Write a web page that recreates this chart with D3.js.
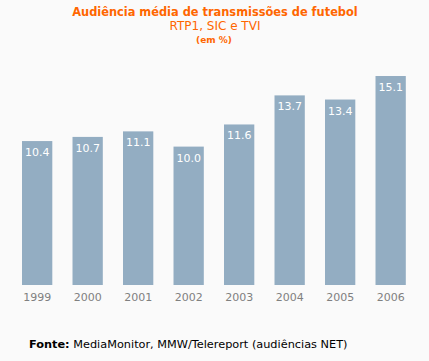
<!DOCTYPE html>
<html><head><meta charset="utf-8">
<script src="https://cdn.jsdelivr.net/npm/d3@7"></script>
<style>html,body{margin:0;padding:0;background:#fafafa;}svg{display:block;}</style>
</head><body>
<script>
const years = ["1999","2000","2001","2002","2003","2004","2005","2006"];
const values = [10.4, 10.7, 11.1, 10.0, 11.6, 13.7, 13.4, 15.1];
const valueLabels = ["10.4","10.7","11.1","10.0","11.6","13.7","13.4","15.1"];
const title = "Audiência média de transmissões de futebol";
const subtitle = "RTP1, SIC e TVI";
const unitLabel = "(em %)";
const sourceBold = "Fonte:";
const sourceText = " MediaMonitor, MMW/Telereport (audiências NET)";

const W = 429, H = 361;
const font = "'DejaVu Sans', Verdana, sans-serif";
const svg = d3.select("body").append("svg").attr("width", W).attr("height", H);
svg.append("rect").attr("width", W).attr("height", H).attr("fill", "#fafafa");

const x = d3.scaleBand().domain(years).range([11.9, 415.9]).paddingInner(0.4).paddingOuter(0.2);
const y = d3.scaleLinear().domain([0, 16]).range([285, 285 - 16 * 13.84]);

svg.append("text").attr("x", 215).attr("y", 15.5).attr("text-anchor", "middle")
  .attr("font-family", font).attr("font-weight", "bold").attr("font-size", 11.4).attr("fill", "#ff6600").text(title);
svg.append("text").attr("x", 215).attr("y", 30).attr("text-anchor", "middle")
  .attr("font-family", font).attr("font-size", 12).attr("fill", "#ff6600").text(subtitle);
svg.append("text").attr("x", 214).attr("y", 42.5).attr("text-anchor", "middle")
  .attr("font-family", font).attr("font-weight", "bold").attr("font-size", 9).attr("fill", "#ff6600").text(unitLabel);

svg.selectAll("rect.bar").data(values).enter().append("rect").attr("class", "bar")
  .attr("x", (d, i) => x(years[i])).attr("width", x.bandwidth())
  .attr("y", d => y(d)).attr("height", d => y(0) - y(d)).attr("fill", "#93adc2");

svg.selectAll("text.val").data(values).enter().append("text").attr("class", "val")
  .attr("x", (d, i) => x(years[i]) + x.bandwidth() / 2).attr("y", d => y(d) + 15)
  .attr("text-anchor", "middle").attr("font-family", font).attr("font-size", 11).attr("fill", "#ffffff")
  .text((d, i) => valueLabels[i]);

const xAxis = d3.axisBottom(x).tickSize(0).tickPadding(0);
const gx = svg.append("g").attr("transform", "translate(0,293)").call(xAxis);
gx.select(".domain").remove();
gx.selectAll("text").attr("font-family", font).attr("font-size", 11).attr("fill", "#808080").attr("dy", "0.71em");

const src = svg.append("text").attr("x", 29).attr("y", 347.5).attr("font-family", font).attr("font-size", 11.3).attr("fill", "#000");
src.append("tspan").attr("font-weight", "bold").text(sourceBold);
src.append("tspan").text(sourceText);
</script>
</body></html>
